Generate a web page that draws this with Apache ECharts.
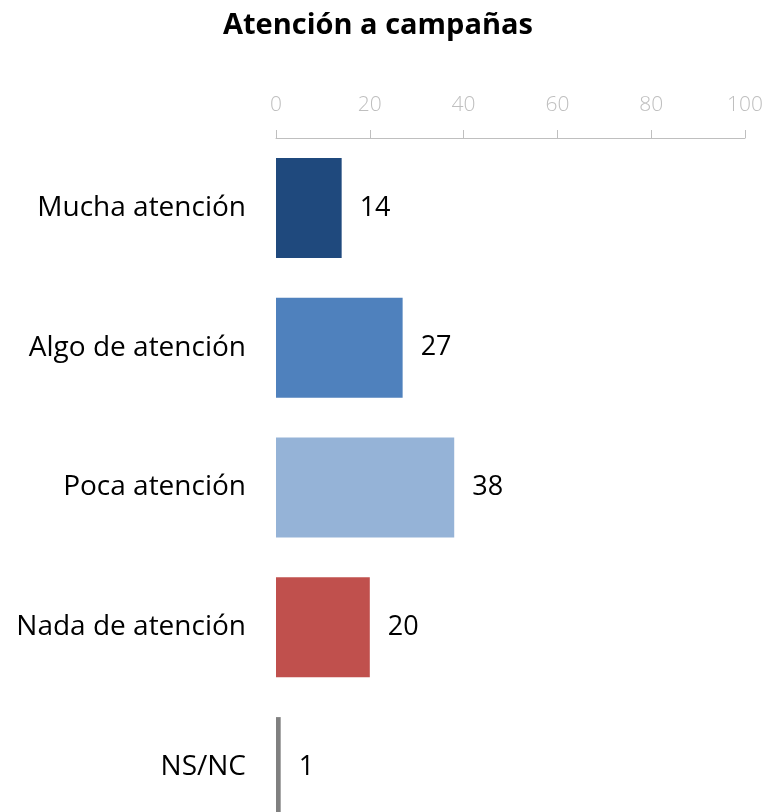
<!DOCTYPE html>
<html>
<head>
<meta charset="utf-8">
<script src="https://cdn.jsdelivr.net/npm/echarts@6/dist/echarts.min.js"></script>
<style>
  html, body { margin: 0; padding: 0; background: #fff; }
  #chart { width: 767px; height: 812px; }
</style>
</head>
<body>
<div id="chart"></div>
<script>
  // datos
  var categorias = ['Mucha atención', 'Algo de atención', 'Poca atención', 'Nada de atención', 'NS/NC']
  var valores = [14, 27, 38, 20, 1]
  var colores = ['#1F497D', '#4F81BD', '#95B3D7', '#C0504D', '#808080']
  var ticks = [0, 20, 40, 60, 80, 100]

  var myChart = echarts.init(document.getElementById('chart'))
  myChart.setOption({
    animation: false,
    textStyle: { fontFamily: '"Open Sans", "Noto Sans", sans-serif' },
    title: {
      text: 'Atención a campañas',
      left: 218,
      top: 6,
      textStyle: { fontSize: 29, fontWeight: 'bold', color: '#000' }
    },
    grid: {
      left: 276,
      right: 22,
      top: 138,
      height: 699,
      outerBoundsMode: 'none'
    },
    xAxis: {
      type: 'value',
      position: 'top',
      min: ticks[0],
      max: ticks[ticks.length - 1],
      interval: 20,
      axisLine: { show: true, lineStyle: { color: '#BFBFBF', width: 1 } },
      axisTick: { show: true, length: 8, lineStyle: { color: '#BFBFBF' } },
      axisLabel: { color: '#BFBFBF', fontSize: 21, fontWeight: 300, margin: 22 },
      splitLine: { show: false }
    },
    yAxis: {
      type: 'category',
      inverse: true,
      data: categorias,
      axisLine: { show: false },
      axisTick: { show: false },
      axisLabel: { color: '#000', fontSize: 28, margin: 30 }
    },
    series: [
      {
        type: 'bar',
        barWidth: 100,
        data: valores.map(function (v, i) {
          return { value: v, itemStyle: { color: colores[i] } }
        }),
        label: {
          show: true,
          position: 'right',
          distance: 18,
          color: '#000',
          fontSize: 27
        }
      }
    ]
  })
</script>
</body>
</html>
